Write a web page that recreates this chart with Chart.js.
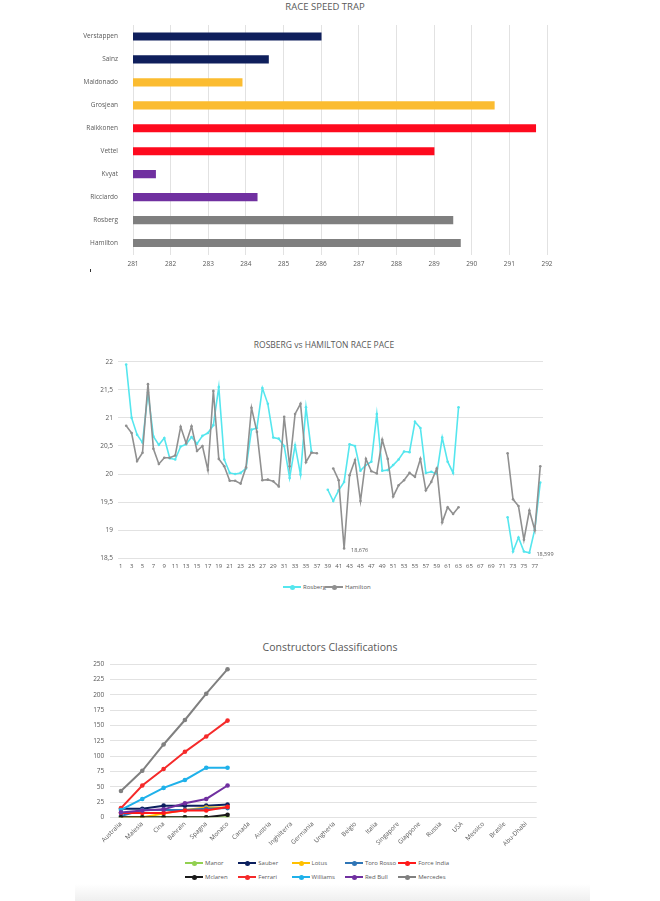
<!DOCTYPE html>
<html>
<head>
<meta charset="utf-8">
<script src="https://cdn.jsdelivr.net/npm/chart.js@4.4.1/dist/chart.umd.min.js"></script>
<style>
  body { margin: 0; background: #fff; font-family: 'Open Sans', sans-serif; }
  #page { position: relative; width: 660px; height: 901px; overflow: hidden; }
  canvas { position: absolute; left: 0; }
  .title { position: absolute; color: #595959; white-space: nowrap; text-align: center; width: 400px; }
  .leg { position: absolute; font-size: 6px; color: #595959; display: flex; align-items: center; white-space: nowrap; line-height: 8px; }
  .sw { position: relative; display: inline-block; width: 18px; height: 2px; margin-right: 2px; }
  .sw i { position: absolute; left: 7px; top: -1.5px; width: 5px; height: 5px; border-radius: 50%; }
  #shade { position: absolute; left: 75px; top: 884px; width: 515px; height: 17px; background: linear-gradient(to bottom, #fff, #efefef); }
  #tick { position: absolute; left: 90px; top: 269px; width: 1px; height: 3px; background: #333; }
</style>
</head>
<body>
<div id="page">
  <div class="title" style="left:125px;top:0px;font-size:9.5px;">RACE SPEED TRAP</div>
  <canvas id="c1" width="660" height="280" style="top:0"></canvas>
  <div id="tick"></div>

  <div class="title" style="left:124px;top:339px;font-size:8.5px;">ROSBERG vs HAMILTON RACE PACE</div>
  <canvas id="c2" width="660" height="245" style="top:335px"></canvas>
  <div id="leg2"></div>

  <div class="title" style="left:130px;top:640px;font-size:10.5px;">Constructors Classifications</div>
  <canvas id="c3" width="660" height="225" style="top:630px"></canvas>
  <div id="leg3"></div>
  <div id="shade"></div>
</div>

<script>
// --- Race speed trap
const drivers = ['Verstappen', 'Sainz', 'Maldonado', 'Grosjean', 'Raikkonen', 'Vettel', 'Kvyat', 'Ricciardo', 'Rosberg', 'Hamilton'];
const speedTrap = [286.0, 284.6, 283.9, 290.6, 291.7, 289.0, 281.6, 284.3, 289.5, 289.7];
const driverColors = ['#0f1f5c', '#0f1f5c', '#fbbc31', '#fbbc31', '#fe0a1e', '#fe0a1e', '#7030a0', '#7030a0', '#7f7f7f', '#7f7f7f'];

// --- Rosberg vs Hamilton race pace (giri 1..78)
const laps = ['1', '2', '3', '4', '5', '6', '7', '8', '9', '10', '11', '12', '13', '14', '15', '16', '17', '18', '19', '20',
  '21', '22', '23', '24', '25', '26', '27', '28', '29', '30', '31', '32', '33', '34', '35', '36', '37', '38', '39', '40',
  '41', '42', '43', '44', '45', '46', '47', '48', '49', '50', '51', '52', '53', '54', '55', '56', '57', '58', '59', '60',
  '61', '62', '63', '64', '65', '66', '67', '68', '69', '70', '71', '72', '73', '74', '75', '76', '77', '78'];
const rosberg = [null, 21.95, 21.0, 20.7, 20.56, 21.45, 20.67, 20.52, 20.64, 20.28,
  20.26, 20.49, 20.53, 20.66, 20.54, 20.68, 20.73, 20.87, 21.55, 20.26,
  20.02, 20.0, 20.02, 20.1, 20.79, 20.82, 21.53, 21.25, 20.65, 20.63,
  20.5, 19.93, 20.51, 19.99, 21.19, 20.4, null, null, 19.72, 19.52,
  19.71, 19.86, 20.53, 20.5, 20.06, 20.16, 20.22, 21.07, 20.06, 20.07,
  20.16, 20.26, 20.4, 20.39, 20.93, 20.82, 20.02, 20.04, 20.0, 20.65,
  20.22, 20.02, 21.19, null, null, null, null, null, null, null,
  null, 19.23, 18.62, 18.87, 18.62, 18.599, 19.02, 19.85];
const hamilton = [null, 20.86, 20.73, 20.23, 20.38, 21.6, 20.45, 20.18, 20.29, 20.29,
  20.33, 20.84, 20.55, 20.85, 20.41, 20.5, 20.07, 21.48, 20.27, 20.14,
  19.88, 19.88, 19.83, 20.12, 21.18, 20.75, 19.89, 19.9, 19.87, 19.78,
  21.02, 20.14, 21.07, 21.25, 20.21, 20.38, 20.37, null, null, 20.1,
  19.89, 18.676, 19.98, 20.25, 19.52, 20.27, 20.05, 20.01, 20.61, 20.27,
  19.6, 19.8, 19.89, 20.02, 19.95, 20.27, 19.71, 19.86, 20.1, 19.14,
  19.41, 19.29, 19.41, null, null, null, null, null, null, null,
  null, 20.37, 19.55, 19.43, 18.83, 19.35, 19.0, 20.14];
const paceColors = ['#55e6ee', '#909090'];
// punti con etichetta: [serie, indice giro]
const labelPoints = [[1, 41], [0, 75]];

// --- Constructors
const races = ['Australia', 'Malesia', 'Cina', 'Bahrain', 'Spagna', 'Monaco', 'Canada', 'Austria', 'Inghilterra', 'Germania',
  'Ungheria', 'Belgio', 'Italia', 'Singapore', 'Giappone', 'Russia', 'USA', 'Messico', 'Brasile', 'Abu-Dhabi'];
const teams = ['Manor', 'Sauber', 'Lotus', 'Toro Rosso', 'Force India', 'Mclaren', 'Ferrari', 'Williams', 'Red Bull', 'Mercedes'];
const manor = [0, 0, 0, 0, 0, 0];
const sauber = [14, 14, 19, 19, 19, 21];
const lotus = [0, 0, 6, 12, 16, 16];
const toroRosso = [2, 12, 12, 12, 14, 15];
const forceIndia = [7, 7, 7, 11, 11, 17];
const mclaren = [0, 0, 0, 0, 0, 4];
const ferrari = [15, 52, 79, 107, 132, 158];
const williams = [12, 30, 48, 61, 81, 81];
const redBull = [8, 11, 13, 23, 30, 52];
const mercedes = [43, 76, 119, 159, 202, 242];
const teamPoints = [manor, sauber, lotus, toroRosso, forceIndia, mclaren, ferrari, williams, redBull, mercedes];
const teamColors = ['#92d050', '#0b1f5e', '#ffc000', '#2e75b6', '#ff1a1a', '#1a1a1a', '#f52a2a', '#1fb1ea', '#7030a0', '#808080'];

const tickColor = '#595959';
const gridColor = '#e2e2e2';
const tickFont = { family: 'Open Sans', size: 6.5 };

// Grafico 1: barre orizzontali
new Chart(document.getElementById('c1'), {
  type: 'bar',
  data: {
    labels: drivers,
    datasets: [{
      data: speedTrap,
      backgroundColor: driverColors,
      borderWidth: 0,
      barThickness: 7.5,
    }],
  },
  options: {
    indexAxis: 'y',
    responsive: false,
    animation: false,
    layout: { padding: { top: 25, left: 0, right: 113, bottom: 0 } },
    plugins: { legend: { display: false }, tooltip: { enabled: false } },
    scales: {
      x: {
        min: 281, max: 292,
        ticks: { stepSize: 1, color: tickColor, font: tickFont, padding: 6 },
        grid: { color: gridColor, drawTicks: false },
        border: { display: false },
        afterFit: (s) => { s.height = 25.5; },
      },
      y: {
        ticks: { color: tickColor, font: tickFont, padding: 7 },
        grid: { display: false },
        border: { display: false },
        afterFit: (s) => { s.width = 133; },
      },
    },
  },
});

// Grafico 2: ritmo gara
const paceLabels = {
  id: 'paceLabels',
  afterDatasetsDraw(chart) {
    const ctx = chart.ctx;
    ctx.save();
    ctx.font = '5.5px "Open Sans"';
    ctx.fillStyle = tickColor;
    ctx.textBaseline = 'middle';
    labelPoints.forEach(([ds, idx]) => {
      const pt = chart.getDatasetMeta(ds).data[idx];
      const v = chart.data.datasets[ds].data[idx];
      ctx.fillText(String(v).replace('.', ','), pt.x + 7, pt.y + 2);
    });
    ctx.restore();
  },
};

new Chart(document.getElementById('c2'), {
  type: 'line',
  data: {
    labels: laps,
    datasets: [
      { label: 'Rosberg', data: rosberg, borderColor: paceColors[0], backgroundColor: paceColors[0], order: 1 },
      { label: 'Hamilton', data: hamilton, borderColor: paceColors[1], backgroundColor: paceColors[1], order: 0 },
    ],
  },
  options: {
    responsive: false,
    animation: false,
    spanGaps: false,
    elements: {
      line: { borderWidth: 1.6, tension: 0 },
      point: { radius: 1.3, borderWidth: 0 },
    },
    layout: { padding: { top: 26.7, left: 0, right: 117, bottom: 0 } },
    plugins: { legend: { display: false }, tooltip: { enabled: false } },
    scales: {
      x: {
        offset: true,
        ticks: {
          autoSkip: false, maxRotation: 0, minRotation: 0,
          color: tickColor, font: { family: 'Open Sans', size: 6 }, padding: 4,
          callback: function (val, idx) { return idx % 2 === 0 ? this.getLabelForValue(val) : ''; },
        },
        grid: { display: false, drawTicks: false },
        border: { display: false },
        afterFit: (s) => { s.height = 21.7; },
      },
      y: {
        min: 18.5, max: 22,
        ticks: {
          stepSize: 0.5, color: tickColor, font: tickFont, padding: 5,
          callback: (v) => String(v).replace('.', ','),
        },
        grid: { color: gridColor, drawTicks: false },
        border: { display: false },
        afterFit: (s) => { s.width = 118; },
      },
    },
  },
  plugins: [paceLabels],
});

// Grafico 3: classifica costruttori
new Chart(document.getElementById('c3'), {
  type: 'line',
  data: {
    labels: races,
    datasets: teams.map((t, i) => ({
      label: t,
      data: teamPoints[i],
      borderColor: teamColors[i],
      backgroundColor: teamColors[i],
      order: teams.length - i,
    })),
  },
  options: {
    responsive: false,
    animation: false,
    elements: {
      line: { borderWidth: 2, tension: 0 },
      point: { radius: 2.3, borderWidth: 0 },
    },
    layout: { padding: { top: 34.3, left: 0, right: 123.3, bottom: 0 } },
    plugins: { legend: { display: false }, tooltip: { enabled: false } },
    scales: {
      x: {
        offset: true,
        ticks: {
          autoSkip: false, maxRotation: 45, minRotation: 45,
          color: tickColor, font: { family: 'Open Sans', size: 6.3 }, padding: 3,
        },
        grid: { display: false, drawTicks: false },
        border: { display: false },
        afterFit: (s) => { s.height = 37.7; },
      },
      y: {
        min: 0, max: 250,
        ticks: { stepSize: 25, color: tickColor, font: tickFont, padding: 6 },
        grid: { color: gridColor, drawTicks: false },
        border: { display: false },
        afterFit: (s) => { s.width = 110.3; },
      },
    },
  },
});

// Legende
function legendItem(parent, text, color, left, top) {
  const d = document.createElement('div');
  d.className = 'leg';
  d.style.left = left + 'px';
  d.style.top = top + 'px';
  d.innerHTML = '<span class="sw" style="background:' + color + '"><i style="background:' + color + '"></i></span>' + text;
  parent.appendChild(d);
}
const leg2 = document.getElementById('leg2');
legendItem(leg2, 'Rosberg', paceColors[0], 283, 583);
legendItem(leg2, 'Hamilton', paceColors[1], 325, 583);

const leg3 = document.getElementById('leg3');
teams.forEach((t, i) => {
  const col = i % 5, row = Math.floor(i / 5);
  legendItem(leg3, t, teamColors[i], 185 + col * 53.3, 859 + row * 14);
});
</script>
</body>
</html>
